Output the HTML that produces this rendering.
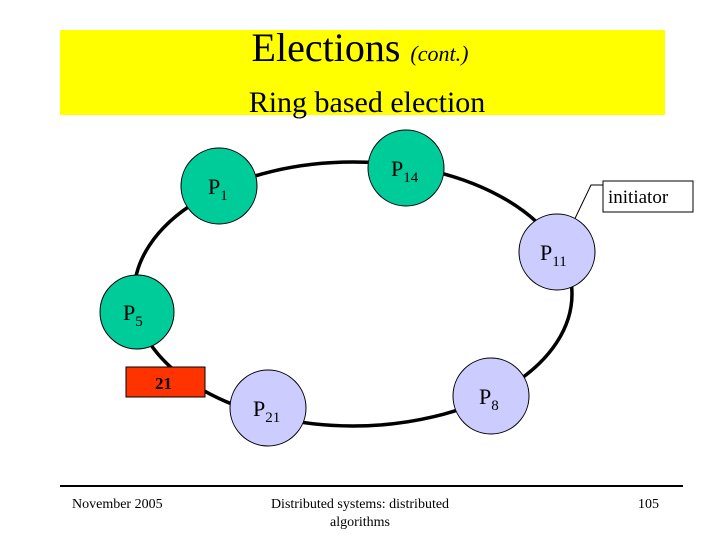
<!DOCTYPE html>
<html><head><style>
body{margin:0;width:720px;height:540px;background:#fff;overflow:hidden;position:relative;font-family:"Liberation Serif",serif}
.t{position:absolute;white-space:nowrap}
</style></head><body>
<div style="position:absolute;left:60px;top:30px;width:605px;height:85px;background:#ffff00"></div>
<div class="t" style="left:0;width:720px;text-align:center;top:24px;font-size:40px;line-height:48px">Elections <i style="font-size:22px">(cont.)</i></div>
<div class="t" style="left:0;width:734px;text-align:center;top:84px;font-size:30px;line-height:38px">Ring based election</div>
<svg width="720" height="540" style="position:absolute;left:0;top:0" font-family="Liberation Serif, serif">
<ellipse cx="353" cy="294" rx="219" ry="132" fill="none" stroke="#000" stroke-width="3.5"/>
<polyline points="569,231 591,185 603,185" fill="none" stroke="#000" stroke-width="1"/>
<rect x="603" y="181" width="90" height="31" fill="#fff" stroke="#000"/>
<text x="608" y="203" font-size="19">initiator</text>
<g stroke="#000" stroke-width="1">
<circle cx="219" cy="186" r="38" fill="#00cc99"/>
<circle cx="406" cy="168" r="38" fill="#00cc99"/>
<circle cx="137" cy="312" r="37" fill="#00cc99"/>
<circle cx="557" cy="252" r="38" fill="#ccccff"/>
<circle cx="268" cy="408" r="38" fill="#ccccff"/>
<circle cx="491" cy="396" r="38" fill="#ccccff"/>
<rect x="126" y="367" width="79" height="30" fill="#ff3300"/>
</g>
<g font-size="22">
<text x="208" y="194">P<tspan font-size="15" dy="6">1</tspan></text>
<text x="391" y="176">P<tspan font-size="15" dy="6">14</tspan></text>
<text x="123" y="320">P<tspan font-size="15" dy="6">5</tspan></text>
<text x="540" y="260">P<tspan font-size="15" dy="6">11</tspan></text>
<text x="253" y="416">P<tspan font-size="15" dy="6">21</tspan></text>
<text x="479" y="404">P<tspan font-size="15" dy="6">8</tspan></text>
</g>
<text x="155" y="389" font-size="17" font-weight="bold">21</text>
<line x1="60" y1="486" x2="683" y2="486" stroke="#000" stroke-width="2"/>
<g font-size="14">
<text x="72" y="508">November 2005</text>
<text x="360" y="508" text-anchor="middle">Distributed systems: distributed</text>
<text x="360" y="526" text-anchor="middle">algorithms</text>
<text x="638" y="508">105</text>
</g>
</svg>
</body></html>
